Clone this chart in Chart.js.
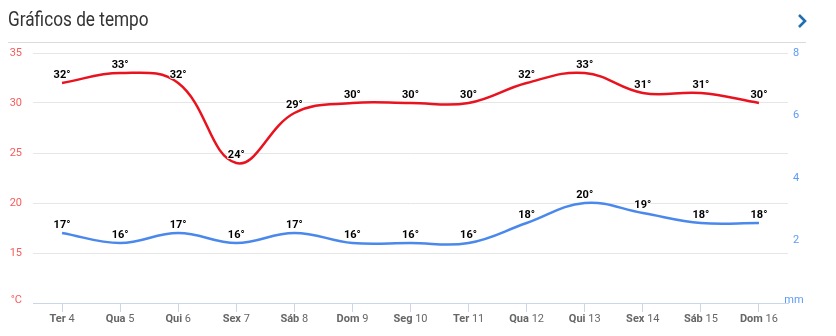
<!DOCTYPE html>
<html lang="pt">
<head>
<meta charset="utf-8">
<title>Gráficos de tempo</title>
<script src="https://cdn.jsdelivr.net/npm/chart.js@4.4.1/dist/chart.umd.min.js"></script>
<style>
  html, body { margin: 0; padding: 0; background: #fff; }
  #wrap { position: relative; width: 836px; height: 336px; overflow: hidden; }
  #title {
    position: absolute; left: 8px; top: 7px;
    font: 21px Roboto, sans-serif; color: #333;
    transform: scaleX(0.82); transform-origin: left top; white-space: nowrap;
  }
  #more { position: absolute; left: 796px; top: 13px; }
  #rule { position: absolute; left: 8px; top: 42px; width: 798px; height: 1px; background: #dadada; }
  #weather { position: absolute; left: 0; top: 0; }
</style>
</head>
<body>
<div id="wrap">
  <canvas id="weather" width="836" height="336"></canvas>
  <div id="title">Gráficos de tempo</div>
  <svg id="more" width="12" height="16" viewBox="0 0 12 16">
    <polyline points="3,2 9,8 3,14" fill="none" stroke="#1f6fb2" stroke-width="2.6"/>
  </svg>
  <div id="rule"></div>
</div>
<script>
// days shown on the x axis
const dayNames = ["Ter", "Qua", "Qui", "Sex", "Sáb", "Dom", "Seg", "Ter", "Qua", "Qui", "Sex", "Sáb", "Dom"];
const dayDates = [4, 5, 6, 7, 8, 9, 10, 11, 12, 13, 14, 15, 16];

// temperatures in °C
const maxTemps = [32, 33, 32, 24, 29, 30, 30, 30, 32, 33, 31, 31, 30];
const minTemps = [17, 16, 17, 16, 17, 16, 16, 16, 18, 20, 19, 18, 18];

// axis ranges and unit labels
const tempTicks = [10, 15, 20, 25, 30, 35];
const rainTicks = [0, 2, 4, 6, 8];
const tempUnit = "°C";
const rainUnit = "mm";

const RED = "#e8131f";
const BLUE = "#4a88ec";
const RED_TEXT = "#f65c5c";
const BLUE_TEXT = "#5c9bf6";

Chart.defaults.font.family = "Roboto";

// value labels above each point, e.g. "32°"
const valueLabels = {
  id: "valueLabels",
  afterDatasetsDraw(chart) {
    const ctx = chart.ctx;
    ctx.save();
    ctx.font = "bold 11px Roboto";
    ctx.textAlign = "center";
    ctx.textBaseline = "alphabetic";
    ctx.lineJoin = "round";
    chart.data.datasets.forEach((ds, i) => {
      const meta = chart.getDatasetMeta(i);
      meta.data.forEach((pt, j) => {
        const txt = ds.data[j] + "°";
        ctx.strokeStyle = "rgba(255,255,255,0.9)";
        ctx.lineWidth = 2;
        ctx.strokeText(txt, pt.x, pt.y - 5);
        ctx.fillStyle = "#000";
        ctx.fillText(txt, pt.x, pt.y - 5);
      });
    });
    ctx.restore();
  }
};

// x labels (weekday bold, date normal) and the unit names at the foot of each y axis
const axisText = {
  id: "axisText",
  afterDraw(chart) {
    const ctx = chart.ctx;
    const xs = chart.scales.x;
    const area = chart.chartArea;
    ctx.save();
    ctx.fillStyle = "#666";
    ctx.textBaseline = "middle";
    ctx.textAlign = "left";
    const y = 319;
    dayNames.forEach((name, i) => {
      const x = xs.getPixelForTick(i);
      ctx.font = "bold 11px Roboto";
      const w1 = ctx.measureText(name + " ").width;
      ctx.font = "11px Roboto";
      const w2 = ctx.measureText(String(dayDates[i])).width;
      const start = x - (w1 + w2) / 2;
      ctx.font = "bold 11px Roboto";
      ctx.fillText(name + " ", start, y);
      ctx.font = "11px Roboto";
      ctx.fillText(String(dayDates[i]), start + w1, y);
    });

    ctx.font = "11px Roboto";
    ctx.textAlign = "right";
    ctx.fillStyle = RED_TEXT;
    ctx.fillText(tempUnit, area.left - 11, area.bottom - 3);
    ctx.textAlign = "center";
    ctx.fillStyle = BLUE_TEXT;
    ctx.fillText(rainUnit, area.right + 6, area.bottom - 3);
    ctx.restore();
  }
};

new Chart(document.getElementById("weather"), {
  type: "line",
  data: {
    labels: dayNames.map((d, i) => d + " " + dayDates[i]),
    datasets: [
      {
        label: "Máx",
        data: maxTemps,
        borderColor: RED,
        borderWidth: 2.5,
        pointRadius: 0,
        tension: 0.4,
        yAxisID: "y",
      },
      {
        label: "Mín",
        data: minTemps,
        borderColor: BLUE,
        borderWidth: 2.5,
        pointRadius: 0,
        tension: 0.4,
        yAxisID: "y",
      },
    ],
  },
  options: {
    responsive: false,
    animation: false,
    layout: { padding: { top: 53, left: 0, right: 0, bottom: 0 } },
    plugins: { legend: { display: false }, tooltip: { enabled: false } },
    scales: {
      x: {
        offset: true,
        grid: { offset: false, drawOnChartArea: false, drawTicks: true, tickLength: 9, color: "#ccd6eb" },
        border: { color: "#ccd6eb" },
        ticks: { color: "rgba(0,0,0,0)", font: { size: 11 }, padding: 2 },
        afterFit(scale) { scale.height = 33; },
      },
      y: {
        position: "left",
        min: tempTicks[0],
        max: tempTicks[tempTicks.length - 1],
        afterBuildTicks(scale) { scale.ticks = tempTicks.map(v => ({ value: v })); },
        grid: { color: "#e6e6e6", drawTicks: false },
        border: { display: false },
        ticks: {
          color: RED_TEXT,
          font: { size: 11 },
          padding: 11,
          callback: v => (v === tempTicks[0] ? "" : v),
        },
        afterFit(scale) { scale.width = 33; },
      },
      y1: {
        position: "right",
        min: rainTicks[0],
        max: rainTicks[rainTicks.length - 1],
        afterBuildTicks(scale) { scale.ticks = rainTicks.map(v => ({ value: v })); },
        grid: { display: false, drawTicks: false },
        border: { display: false },
        ticks: {
          color: BLUE_TEXT,
          font: { size: 11 },
          padding: 5,
          crossAlign: "near",
          callback: v => (v === rainTicks[0] ? "" : v),
        },
        afterFit(scale) { scale.width = 48; },
      },
    },
  },
  plugins: [valueLabels, axisText],
});
</script>
</body>
</html>
